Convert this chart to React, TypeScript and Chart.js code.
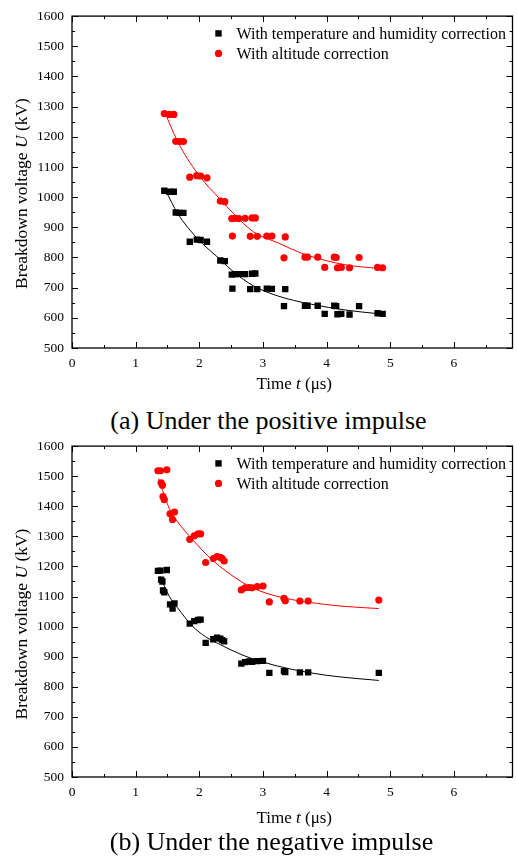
import React, { useEffect, useRef } from 'react';
import { Chart, registerables } from 'chart.js';

Chart.register(...registerables);

const FONT = '"Liberation Serif", "Times New Roman", Times, serif';
Chart.defaults.font.family = FONT;
Chart.defaults.color = '#000';

// ---------- (a) positive impulse ----------
const posTimeTH = [1.45, 1.53, 1.6, 1.63, 1.69, 1.75, 1.85, 1.96, 2.02, 2.12, 2.33, 2.4, 2.51, 2.56, 2.62, 2.72, 2.83, 2.88, 2.52, 2.8, 2.91, 3.06, 3.14, 3.35, 3.33, 3.66, 3.7, 3.86, 3.97, 4.12, 4.15, 4.17, 4.23, 4.36, 4.51, 4.8, 4.88];
const posVoltTH = [1021, 1018, 1018, 949, 948, 948, 852, 859, 858, 852, 790, 788, 743, 745, 745, 745, 746, 747, 697, 695, 695, 697, 696, 695, 639, 640, 640, 640, 613, 640, 639, 612, 613, 611, 639, 615, 613];
const posTimeAlt = [1.45, 1.53, 1.6, 1.63, 1.69, 1.75, 1.85, 1.96, 2.02, 2.12, 2.33, 2.4, 2.51, 2.56, 2.62, 2.72, 2.83, 2.88, 2.52, 2.8, 2.91, 3.06, 3.14, 3.35, 3.33, 3.66, 3.7, 3.86, 3.97, 4.12, 4.15, 4.17, 4.23, 4.36, 4.51, 4.8, 4.88];
const posVoltAlt = [1277, 1274, 1274, 1185, 1184, 1184, 1066, 1071, 1070, 1064, 987, 985, 929, 930, 929, 930, 931, 931, 871, 870, 870, 871, 871, 868, 799, 801, 801, 801, 767, 801, 800, 766, 767, 766, 800, 767, 766];
const posFitTimeTH = [1.47, 1.66, 1.97, 2.34, 2.54, 2.85, 3.24, 3.48, 3.76, 4.29, 4.8, 4.9];
const posFitVoltTH = [1022, 946, 863, 791, 752, 706, 672, 658, 645, 626, 614, 612];
const posFitTimeAlt = [1.45, 1.66, 1.97, 2.34, 2.54, 2.85, 3.24, 3.66, 4.29, 4.8, 4.9];
const posFitVoltAlt = [1285, 1184, 1079, 990, 945, 885, 848, 810, 776, 764, 762];

// ---------- (b) negative impulse ----------
const negTimeTH = [1.35, 1.39, 1.49, 1.4, 1.42, 1.43, 1.45, 1.54, 1.61, 1.58, 1.85, 1.92, 1.98, 2.02, 2.1, 2.22, 2.28, 2.33, 2.36, 2.39, 2.66, 2.72, 2.78, 2.83, 2.91, 3.0, 3.1, 3.33, 3.35, 3.58, 3.71, 4.82];
const negVoltTH = [1185, 1186, 1188, 1156, 1150, 1120, 1114, 1074, 1077, 1060, 1010, 1018, 1022, 1023, 946, 958, 963, 960, 955, 951, 877, 882, 884, 883, 885, 886, 846, 852, 849, 848, 848, 846];
const negTimeAlt = [1.35, 1.39, 1.49, 1.4, 1.42, 1.43, 1.45, 1.54, 1.61, 1.58, 1.85, 1.92, 1.98, 2.02, 2.1, 2.22, 2.28, 2.33, 2.36, 2.39, 2.66, 2.72, 2.78, 2.83, 2.91, 3.0, 3.1, 3.33, 3.35, 3.58, 3.71, 4.82];
const negVoltAlt = [1518, 1518, 1521, 1478, 1470, 1432, 1422, 1375, 1381, 1356, 1290, 1302, 1308, 1308, 1213, 1226, 1233, 1230, 1226, 1218, 1122, 1129, 1130, 1129, 1133, 1135, 1082, 1094, 1086, 1085, 1085, 1088];
const negFitTimeTH = [1.38, 1.53, 1.66, 1.89, 2.1, 2.33, 2.67, 3.0, 3.45, 4.0, 4.49, 4.82];
const negFitVoltTH = [1168, 1100, 1062, 1002, 966, 940, 906, 882, 858, 838, 827, 821];
const negFitTimeAlt = [1.36, 1.53, 1.66, 1.89, 2.2, 2.67, 2.93, 3.45, 3.97, 4.29, 4.82];
const negFitVoltAlt = [1492, 1392, 1348, 1290, 1222, 1148, 1120, 1090, 1074, 1067, 1060];

// ---------- axes ----------
const xMajorTicks = [0, 1, 2, 3, 4, 5, 6];
const xMinorTicks = [0.5, 1.5, 2.5, 3.5, 4.5, 5.5, 6.5];
const yMajorTicks = [500, 600, 700, 800, 900, 1000, 1100, 1200, 1300, 1400, 1500, 1600];
const yMinorTicks = [550, 650, 750, 850, 950, 1050, 1150, 1250, 1350, 1450, 1550];
const X_MIN = 0;
const X_MAX = 6.92;
const Y_MIN = 500;
const Y_MAX = 1600;

const legendLabels = ['With temperature and humidity correction', 'With altitude correction'];
const xTitle = [{ text: 'Time ' }, { text: 't', italic: true }, { text: ' (\u03bcs)' }];
const yTitle = [{ text: 'Breakdown voltage ' }, { text: 'U', italic: true }, { text: ' (kV)' }];
const captions = ['(a) Under the positive impulse', '(b) Under the negative impulse'];

const zip = (xs: number[], ys: number[]) => xs.map((x, i) => ({ x, y: ys[i] }));

function drawRich(ctx: CanvasRenderingContext2D, segs: any[], size: number, cx: number, cy: number, rotate: boolean) {
  ctx.save();
  ctx.translate(cx, cy);
  if (rotate) ctx.rotate(-Math.PI / 2);
  const fonts = segs.map((s) => `${s.italic ? 'italic ' : ''}${size}px ${FONT}`);
  let total = 0;
  const widths = segs.map((s, i) => {
    ctx.font = fonts[i];
    const w = ctx.measureText(s.text).width;
    total += w;
    return w;
  });
  let x = -total / 2;
  ctx.textBaseline = 'middle';
  ctx.textAlign = 'left';
  ctx.fillStyle = '#000';
  segs.forEach((s, i) => {
    ctx.font = fonts[i];
    ctx.fillText(s.text, x, 0);
    x += widths[i];
  });
  ctx.restore();
}

const decorPlugin = {
  id: 'decor',
  afterDraw(chart: any, _args: any, opts: any) {
    const { ctx, chartArea } = chart;
    const { left, right, top, bottom } = chartArea;
    const xs = chart.scales.x;
    const ys = chart.scales.y;
    ctx.save();
    // frame
    ctx.strokeStyle = '#000';
    ctx.lineWidth = 1.3;
    ctx.strokeRect(left, top, right - left, bottom - top);
    // inward ticks
    ctx.lineWidth = 1;
    ctx.beginPath();
    const xt = (vals: number[], len: number) => {
      vals.forEach((v) => {
        if (v < X_MIN || v > X_MAX) return;
        const px = Math.round(xs.getPixelForValue(v)) + 0.5;
        ctx.moveTo(px, bottom);
        ctx.lineTo(px, bottom - len);
        ctx.moveTo(px, top);
        ctx.lineTo(px, top + len);
      });
    };
    const yt = (vals: number[], len: number) => {
      vals.forEach((v) => {
        const py = Math.round(ys.getPixelForValue(v)) + 0.5;
        ctx.moveTo(left, py);
        ctx.lineTo(left + len, py);
        ctx.moveTo(right, py);
        ctx.lineTo(right - len, py);
      });
    };
    xt(xMajorTicks, 6);
    xt(xMinorTicks, 3);
    yt(yMajorTicks, 6);
    yt(yMinorTicks, 3);
    ctx.stroke();

    // legend
    const mx = left + 146.5;
    const tx = left + 164.5;
    chart.data.datasets.forEach((ds: any) => {
      if (!ds.legendRow && ds.legendRow !== 0) return;
      const cy = top + 17.3 + ds.legendRow * 20;
      ctx.fillStyle = ds.backgroundColor;
      if (ds.pointStyle === 'rect') {
        ctx.fillRect(mx - 3.2, cy - 3.2, 6.4, 6.4);
      } else {
        ctx.beginPath();
        ctx.arc(mx, cy, 3.6, 0, Math.PI * 2);
        ctx.fill();
      }
      ctx.fillStyle = '#000';
      ctx.font = `16px ${FONT}`;
      ctx.textBaseline = 'middle';
      ctx.textAlign = 'left';
      ctx.fillText(ds.label, tx, cy + 1);
    });
    ctx.restore();

    // axis titles
    drawRich(ctx, xTitle, 17, (left + right) / 2 + 2, bottom + opts.xTitleOffset, false);
    drawRich(ctx, yTitle, 17.5, 22, (top + bottom) / 2 + opts.yTitleShift, true);
  },
};

type PanelProps = {
  top: number;
  height: number;
  xAxisHeight: number;
  xTitleOffset: number;
  yTitleShift: number;
  thT: number[];
  thV: number[];
  altT: number[];
  altV: number[];
  fitThT: number[];
  fitThV: number[];
  fitAltT: number[];
  fitAltV: number[];
};

function Panel(p: PanelProps) {
  const ref = useRef<HTMLCanvasElement | null>(null);
  useEffect(() => {
    if (!ref.current) return;
    const tickFont = { family: FONT, size: 13.5 };
    const chart = new Chart(ref.current, {
      type: 'scatter',
      data: {
        datasets: [
          {
            label: legendLabels[0],
            legendRow: 0,
            data: zip(p.thT, p.thV),
            pointStyle: 'rect',
            pointRadius: 4.5,
            backgroundColor: '#000000',
            borderWidth: 0,
          } as any,
          {
            label: legendLabels[1],
            legendRow: 1,
            data: zip(p.altT, p.altV),
            pointStyle: 'circle',
            pointRadius: 3.6,
            backgroundColor: '#ff0000',
            borderWidth: 0,
          } as any,
          {
            label: 'fit-th',
            data: zip(p.fitThT, p.fitThV),
            showLine: true,
            pointRadius: 0,
            borderColor: '#000000',
            borderWidth: 1,
            cubicInterpolationMode: 'monotone',
          } as any,
          {
            label: 'fit-alt',
            data: zip(p.fitAltT, p.fitAltV),
            showLine: true,
            pointRadius: 0,
            borderColor: '#ff0000',
            borderWidth: 1,
            cubicInterpolationMode: 'monotone',
          } as any,
        ],
      },
      options: {
        responsive: false,
        animation: false,
        layout: { padding: { top: 16, left: 0, right: 1, bottom: 0 } },
        plugins: {
          legend: { display: false },
          tooltip: { enabled: false },
          decor: { xTitleOffset: p.xTitleOffset, yTitleShift: p.yTitleShift },
        } as any,
        scales: {
          x: {
            type: 'linear',
            min: X_MIN,
            max: X_MAX,
            grid: { display: false, drawTicks: false },
            border: { display: false },
            ticks: {
              font: tickFont,
              color: '#000',
              padding: 7,
              maxRotation: 0,
              callback: (v: any) => String(v),
            },
            afterBuildTicks: (s: any) => {
              s.ticks = xMajorTicks.map((v) => ({ value: v }));
            },
            afterFit: (s: any) => {
              s.height = p.xAxisHeight;
              s.paddingLeft = 0;
              s.paddingRight = 0;
            },
          },
          y: {
            type: 'linear',
            min: Y_MIN,
            max: Y_MAX,
            grid: { display: false, drawTicks: false },
            border: { display: false },
            ticks: {
              font: tickFont,
              color: '#000',
              padding: 8,
              callback: (v: any) => String(v),
            },
            afterBuildTicks: (s: any) => {
              s.ticks = yMajorTicks.map((v) => ({ value: v }));
            },
            afterFit: (s: any) => {
              s.width = 72;
            },
          },
        },
      } as any,
      plugins: [decorPlugin as any],
    });
    return () => chart.destroy();
  }, []);
  return (
    <canvas
      ref={ref}
      width={517}
      height={p.height}
      style={{ position: 'absolute', left: 0, top: p.top, width: 517, height: p.height }}
    />
  );
}

const captionStyle = (centerX: number, top: number): React.CSSProperties => ({
  position: 'absolute',
  left: centerX - 200,
  width: 400,
  top,
  textAlign: 'center',
  fontFamily: FONT,
  fontSize: 26,
  lineHeight: '30px',
  color: '#000',
  whiteSpace: 'nowrap',
});

export default function App() {
  return (
    <div style={{ position: 'absolute', left: 0, top: 0, width: 517, height: 856, overflow: 'hidden', background: '#fff' }}>
      <Panel
        top={0}
        height={400}
        xAxisHeight={52}
        xTitleOffset={37}
        yTitleShift={11.5}
        thT={posTimeTH}
        thV={posVoltTH}
        altT={posTimeAlt}
        altV={posVoltAlt}
        fitThT={posFitTimeTH}
        fitThV={posFitVoltTH}
        fitAltT={posFitTimeAlt}
        fitAltV={posFitVoltAlt}
      />
      <div style={captionStyle(268.5, 406)}>{captions[0]}</div>
      <Panel
        top={430}
        height={400}
        xAxisHeight={53}
        xTitleOffset={42}
        yTitleShift={12.5}
        thT={negTimeTH}
        thV={negVoltTH}
        altT={negTimeAlt}
        altV={negVoltAlt}
        fitThT={negFitTimeTH}
        fitThV={negFitVoltTH}
        fitAltT={negFitTimeAlt}
        fitAltV={negFitVoltAlt}
      />
      <div style={captionStyle(271.5, 827)}>{captions[1]}</div>
    </div>
  );
}
